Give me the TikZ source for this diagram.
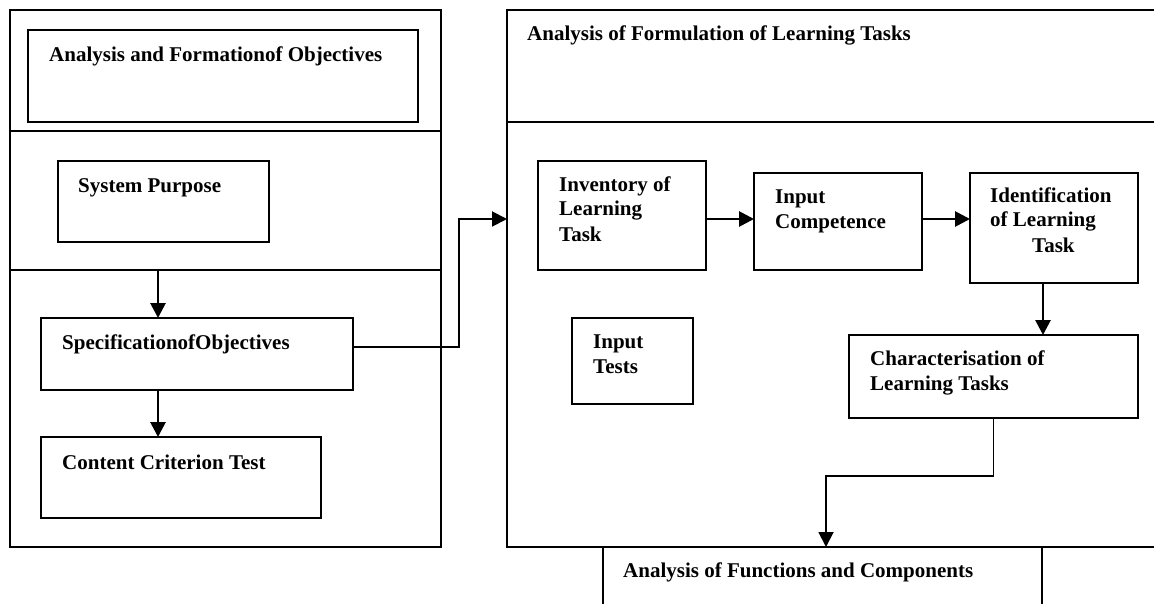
\documentclass[tikz,border=0pt]{standalone}
\usepackage{fontspec}
\setmainfont{Liberation Serif}
\usetikzlibrary{arrows.meta,positioning,fit}

\begin{document}
\begin{tikzpicture}[
  x=1pt,y=-1pt,
  panel/.style={draw=black,line width=1.8pt,inner sep=0pt,outer sep=0pt},
  txt/.style={font=\bfseries\fontsize{21}{25}\selectfont,anchor=base west,inner sep=0pt,align=left},
  flow/.style={draw=black,line width=2.8pt,-{Triangle[length=15pt,width=15pt]}},
  feed/.style={draw=black,line width=1.9pt,-{Triangle[length=15pt,width=15pt]}}
]
  \useasboundingbox (0,0) rectangle (1154,604);

  % left column
  \node[panel,fit={(10,10) (441,547)}] (objpanel) {};
  \draw[panel] (objpanel.west |- 0,131) -- (objpanel.east |- 0,131);
  \draw[panel] (objpanel.west |- 0,270) -- (objpanel.east |- 0,270);
  \node[panel,fit={(28,30) (418,122)}] (form) {};
  \node[txt] (formtxt) at (49,62) {Analysis and Formationof Objectives};
  \node[panel,fit={(58,161) (269,242)}] (purpose) {};
  \node[txt] (purposetxt) at (78,193) {System Purpose};
  \node[panel,fit={(41,318) (353,390)}] (spec) {};
  \node[txt] (spectxt) at (62,349) {SpecificationofObjectives};
  \node[panel,fit={(41,437) (321,518)}] (crit) {};
  \node[txt] (crittxt) at (62,469) {Content Criterion Test};

  % right column (multi-line texts sit on their last baseline)
  \node[panel,fit={(507,10) (1170,547)}] (taskpanel) {};
  \draw[panel] (taskpanel.west |- 0,122) -- (taskpanel.east |- 0,122);
  \node[txt] (tasktxt) at (527,41) {Analysis of Formulation of Learning Tasks};
  \node[panel,fit={(538,161) (706,270)}] (inv) {};
  \node[txt] (invtxt) at (559,241) {Inventory of\\Learning\\Task};
  \node[panel,fit={(754,173) (922,270)}] (comp) {};
  \node[txt] (comptxt) at (775,229) {Input\\Competence};
  \node[panel,fit={(970,173) (1138,283)}] (ident) {};
  \node[txt] (identtxt) at (990,252) {Identification\\of Learning\\\hspace*{42pt}Task};
  \node[panel,fit={(572,318) (693,404)}] (tests) {};
  \node[txt] (teststxt) at (593,373) {Input\\Tests};
  \node[panel,fit={(849,335) (1138,418)}] (char) {};
  \node[txt] (chartxt) at (870,390) {Characterisation of\\Learning Tasks};
  \node[panel,fit={(603,547) (1042,620)}] (func) {};
  \node[txt] (functxt) at (623,577) {Analysis of Functions and Components};

  % connectors
  \coordinate (gate) at (158,270);
  \coordinate (row) at (0,219);
  \coordinate (elbow) at (459,347);
  \coordinate (tap) at (1043,0);
  \coordinate (drop) at (826,476);
  \draw[flow] (gate) -- (gate |- spec.north);
  \draw[flow] (spec.south -| gate) -- (crit.north -| gate);
  \draw[feed] (spec.east |- elbow) -- (elbow) -- (elbow |- row) -- (taskpanel.west |- row);
  \draw[flow] (inv.east |- row) -- (comp.west |- row);
  \draw[flow] (comp.east |- row) -- (ident.west |- row);
  \draw[flow] (ident.south -| tap) -- (char.north -| tap);
  \draw[feed] (char.south) -- (char.south |- drop) -- (drop) -- (drop |- func.north);
\end{tikzpicture}
\end{document}
